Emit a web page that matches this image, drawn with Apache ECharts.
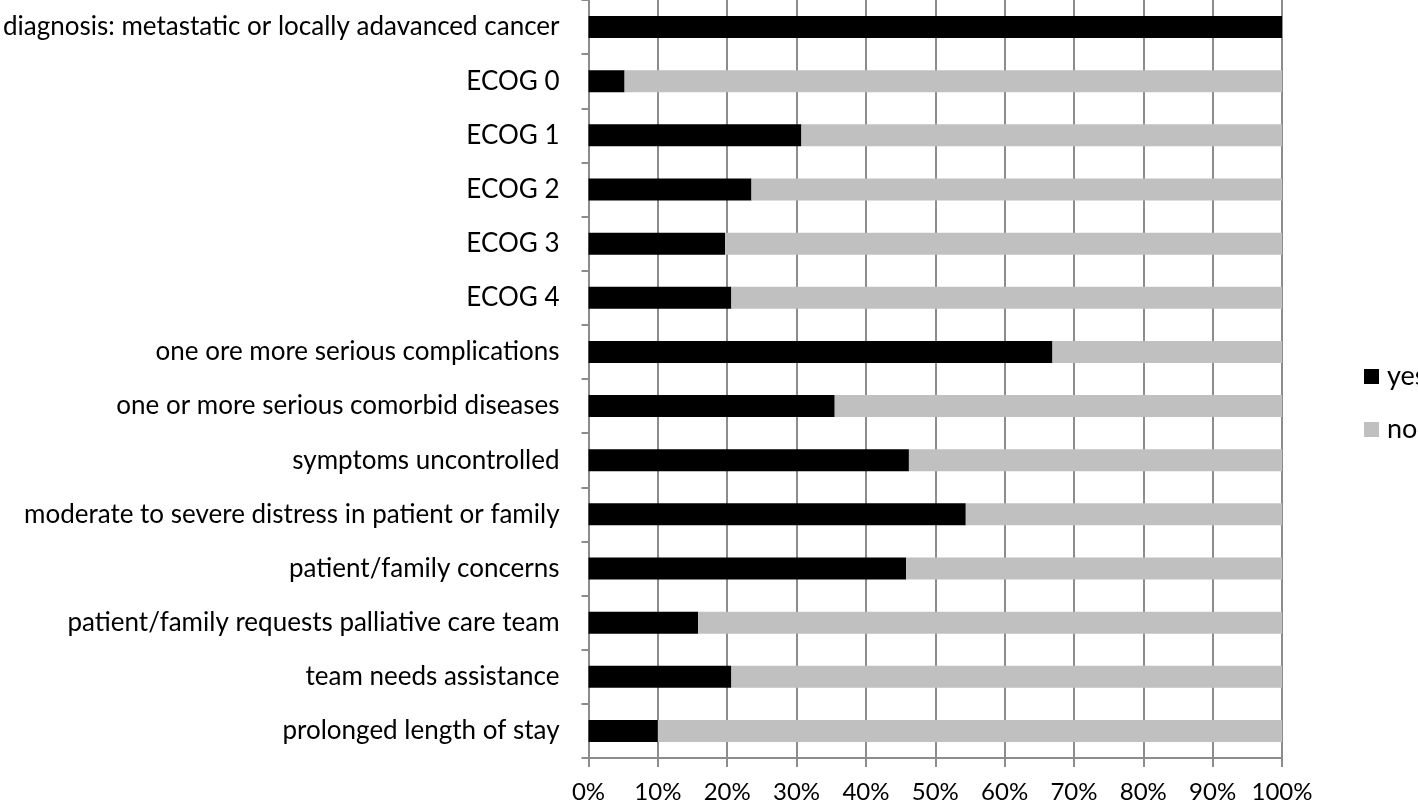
<!DOCTYPE html>
<html>
<head>
<meta charset="utf-8">
<script src="https://cdn.jsdelivr.net/npm/echarts@6/dist/echarts.min.js"></script>
<style>
html,body{margin:0;padding:0;background:#fff;}
#chart{width:1418px;height:804px;}
</style>
</head>
<body>
<div id="chart"></div>
<script>
const categories = [
  "diagnosis: metastatic or locally adavanced cancer",
  "ECOG 0",
  "ECOG 1",
  "ECOG 2",
  "ECOG 3",
  "ECOG 4",
  "one ore more serious complications",
  "one or more serious comorbid diseases",
  "symptoms uncontrolled",
  "moderate to severe distress in patient or family",
  "patient/family concerns",
  "patient/family requests palliative care team",
  "team needs assistance",
  "prolonged length of stay"
];
const yesValues = [100, 5.2, 30.7, 23.5, 19.7, 20.6, 66.9, 35.5, 46.2, 54.4, 45.8, 15.8, 20.6, 10.0];
const noValues  = [0, 94.8, 69.3, 76.5, 80.3, 79.4, 33.1, 64.5, 53.8, 45.6, 54.2, 84.2, 79.4, 90.0];
const xTicks = [0, 10, 20, 30, 40, 50, 60, 70, 80, 90, 100];

const FONT = "Lato";
const chart = echarts.init(document.getElementById('chart'), null, {renderer: 'canvas'});
chart.setOption({
  animation: false,
  backgroundColor: '#ffffff',
  textStyle: {fontFamily: FONT},
  grid: {left: 588, right: 136, top: 0, bottom: 46, containLabel: false},
  legend: {
    orient: 'vertical',
    left: 1359,
    top: 358,
    icon: 'rect',
    itemWidth: 15,
    itemHeight: 15,
    itemGap: 26,
    data: ['yes', 'no'],
    textStyle: {fontFamily: FONT, fontSize: 27, color: '#000', lineHeight: 24, padding: [0, 0, 0, 3]}
  },
  xAxis: {
    type: 'value',
    min: xTicks[0],
    max: xTicks[xTicks.length - 1],
    interval: 10,
    axisLine: {show: true, lineStyle: {color: '#8c8c8c', width: 2}},
    axisTick: {show: true, length: 9, lineStyle: {color: '#8c8c8c', width: 2}},
    splitLine: {show: true, lineStyle: {color: '#8c8c8c', width: 2}},
    axisLabel: {formatter: '{value}%', color: '#000', fontSize: 24, fontFamily: FONT, margin: 22}
  },
  yAxis: {
    type: 'category',
    inverse: true,
    data: categories,
    axisLine: {show: true, lineStyle: {color: '#8c8c8c', width: 2}},
    axisTick: {show: true, length: 7, lineStyle: {color: '#8c8c8c', width: 2}},
    axisLabel: {color: '#000', fontSize: 26, fontFamily: FONT, margin: 29}
  },
  series: [
    {name: 'yes', type: 'bar', stack: 'total', data: yesValues, barWidth: 22,
     itemStyle: {color: '#000000'}},
    {name: 'no', type: 'bar', stack: 'total', data: noValues, barWidth: 22,
     itemStyle: {color: '#c0c0c0'}}
  ]
});
</script>
</body>
</html>
